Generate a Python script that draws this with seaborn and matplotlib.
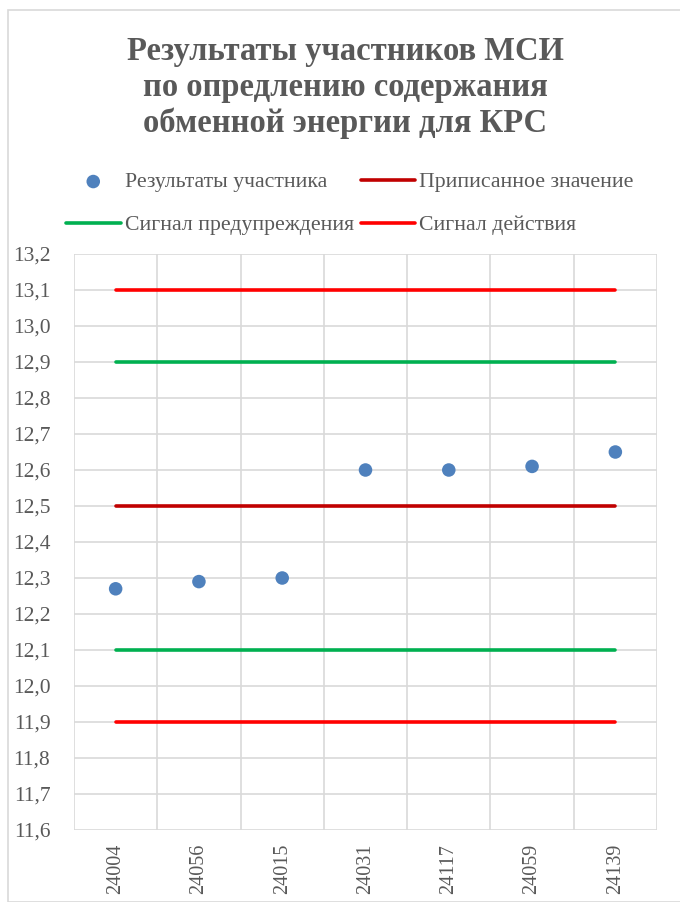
import numpy as np
import pandas as pd
import matplotlib
matplotlib.use("Agg")
import matplotlib.pyplot as plt
import seaborn as sns
from matplotlib.patches import Rectangle
from matplotlib.ticker import FixedLocator

participants = ["24004", "24056", "24015", "24031", "24117", "24059", "24139"]
results = [12.27, 12.29, 12.30, 12.60, 12.60, 12.61, 12.65]
assigned_value = 12.5
warning_limits = [12.1, 12.9]
action_limits = [11.9, 13.1]
y_ticks = [11.6, 11.7, 11.8, 11.9, 12.0, 12.1, 12.2, 12.3, 12.4,
           12.5, 12.6, 12.7, 12.8, 12.9, 13.0, 13.1, 13.2]

TITLE = "Результаты участников МСИ\nпо опредлению содержания\nобменной энергии для КРС"
LABELS = ["Результаты участника", "Приписанное значение",
          "Сигнал предупреждения", "Сигнал действия"]
COLORS = {"points": "#4F81BD", "assigned": "#C00000",
          "warning": "#00B050", "action": "#FF0000"}
TEXT = "#595959"
GRID = "#D9D9D9"

sns.set_style("white")
plt.rcParams["font.family"] = ["Liberation Serif", "DejaVu Serif"]

fig = plt.figure(figsize=(6.8, 9.02), dpi=100)
fig.patches.append(Rectangle((8 / 680, 0), 1.0, 1 - 10 / 902, transform=fig.transFigure,
                             fill=False, edgecolor=GRID, linewidth=1.2))
ax = fig.add_axes([74 / 680, 1 - 830 / 902, 583 / 680, 576 / 902])

df = pd.DataFrame({"participant": participants, "result": results})
sns.scatterplot(data=df, x="participant", y="result", ax=ax, color=COLORS["points"],
                s=95, edgecolor="none", label=LABELS[0], zorder=5)


def hline(level, color, label):
    d = pd.DataFrame({"participant": participants, "value": [level] * len(participants)})
    sns.lineplot(data=d, x="participant", y="value", ax=ax, color=color, linewidth=2.6,
                 sort=False, label=label, zorder=4)


hline(assigned_value, COLORS["assigned"], LABELS[1])
hline(warning_limits[0], COLORS["warning"], LABELS[2])
hline(warning_limits[1], COLORS["warning"], None)
hline(action_limits[0], COLORS["action"], LABELS[3])
hline(action_limits[1], COLORS["action"], None)

ax.set_xlim(-0.5, len(participants) - 0.5)
ax.set_ylim(y_ticks[0], y_ticks[-1])
ax.set_yticks(y_ticks)
ax.set_yticklabels([f"{v:.1f}".replace(".", ",") for v in y_ticks])
ax.xaxis.set_minor_locator(FixedLocator(np.arange(len(participants) + 1) - 0.5))
ax.tick_params(axis="x", which="both", length=0, rotation=90, labelsize=14.5,
               labelcolor=TEXT, pad=10)
ax.tick_params(axis="y", length=0, labelsize=15.5, labelcolor=TEXT, pad=17)
ax.grid(which="major", axis="y", color=GRID, linewidth=1.2)
ax.grid(which="minor", axis="x", color=GRID, linewidth=1.2)
ax.grid(which="major", axis="x", visible=False)
ax.set_axisbelow(True)
for s in ax.spines.values():
    s.set_visible(False)
ax.set_xlabel("")
ax.set_ylabel("")

handles, labels = ax.get_legend_handles_labels()
ax.get_legend().remove()
# legend fills column by column, so order the entries to read row by row
row_order = [LABELS[0], LABELS[2], LABELS[1], LABELS[3]]
order = [labels.index(l) for l in row_order]
fig.legend([handles[i] for i in order], [labels[i] for i in order],
           loc="upper left", bbox_to_anchor=(66 / 680, 1 - 172 / 902), ncol=2,
           frameon=False, fontsize=15.7, labelcolor=TEXT, handlelength=2.5,
           handletextpad=0.2, columnspacing=0.3, labelspacing=1.05, borderpad=0,
           borderaxespad=0)

fig.text(0.508, 1 - 36 / 902, TITLE, ha="center", va="top", fontsize=23.5,
         fontweight="bold", color=TEXT, linespacing=1.2)

fig.savefig("out.png", dpi=100)
